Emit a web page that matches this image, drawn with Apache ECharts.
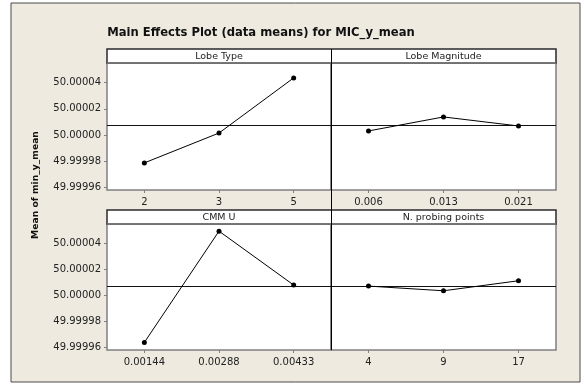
<!DOCTYPE html>
<html>
<head>
<meta charset="utf-8">
<script src="https://cdn.jsdelivr.net/npm/echarts@6/dist/echarts.min.js"></script>
<style>
html,body{margin:0;padding:0;background:#fff;}
#c{width:584px;height:385px;}
</style>
</head>
<body>
<div id="c"></div>
<script>
var TITLE = 'Main Effects Plot (data means) for MIC_y_mean';
var Y_NAME = 'Mean of min_y_mean';
var FACTORS = ['Lobe Type', 'Lobe Magnitude', 'CMM U', 'N. probing points'];
var lobeTypeLevels = ['2', '3', '5'];
var lobeTypeMeans = [49.9999787, 50.0000015, 50.0000436];
var lobeMagLevels = ['0.006', '0.013', '0.021'];
var lobeMagMeans = [50.0000031, 50.0000138, 50.0000069];
var cmmLevels = ['0.00144', '0.00288', '0.00433'];
var cmmMeans = [49.9999638, 50.0000495, 50.0000080];
var probeLevels = ['4', '9', '17'];
var probeMeans = [50.0000072, 50.0000036, 50.0000113];
var GRAND_MEAN = 50.0000072;
var Y_TICKS = [49.99996, 49.99998, 50.00000, 50.00002, 50.00004];
var Y_MIN = 49.999958, Y_MAX = 50.000055;

var levels = [lobeTypeLevels, lobeMagLevels, cmmLevels, probeLevels];
var means = [lobeTypeMeans, lobeMagMeans, cmmMeans, probeMeans];

var FONT = 'DejaVu Sans';
var grids = [
  {left: 107, top: 63, width: 224, height: 127},
  {left: 331, top: 63, width: 225, height: 127},
  {left: 107, top: 224, width: 224, height: 126},
  {left: 331, top: 224, width: 225, height: 126}
];

var option = {
  backgroundColor: '#fff',
  animation: false,
  grid: grids.map(function (g) {
    return {left: g.left, top: g.top, width: g.width, height: g.height,
      show: true, backgroundColor: '#fff', borderColor: '#808080', borderWidth: 1.5, z: 1};
  }),
  xAxis: levels.map(function (lv, i) {
    return {
      type: 'category', gridIndex: i, data: lv, boundaryGap: true,
      axisLine: {show: false},
      axisTick: {show: true, alignWithLabel: true, length: 3, lineStyle: {color: '#808080', width: 1}},
      axisLabel: {fontFamily: FONT, fontSize: 10, color: '#222', margin: 7},
      splitLine: {show: false}
    };
  }),
  yAxis: levels.map(function (lv, i) {
    var left = (i % 2 === 0);
    return {
      type: 'value', gridIndex: i, min: Y_MIN, max: Y_MAX,
      axisLine: {show: false},
      axisTick: {show: left, length: 3, customValues: Y_TICKS, lineStyle: {color: '#808080', width: 1}},
      axisLabel: {show: left, customValues: Y_TICKS, fontFamily: FONT, fontSize: 10, color: '#222', margin: 6,
        formatter: function (v) { return v.toFixed(5); }},
      splitLine: {show: false}
    };
  }),
  series: means.map(function (m, i) {
    return {
      type: 'line', xAxisIndex: i, yAxisIndex: i, data: m,
      symbol: 'circle', symbolSize: 5, showSymbol: true,
      itemStyle: {color: '#000'},
      lineStyle: {color: '#000', width: 1},
      z: 5,
      markLine: {
        silent: true, symbol: 'none', label: {show: false}, precision: 10,
        lineStyle: {color: '#111', width: 1, type: 'solid'},
        data: [{yAxis: GRAND_MEAN}]
      }
    };
  }),
  graphic: [
    {type: 'rect', z: -10, silent: true, shape: {x: 11, y: 3, width: 569, height: 379},
      style: {fill: '#EEEAE0', stroke: '#4a4a4a', lineWidth: 1}},
    {type: 'text', z: 10, x: 261, y: 33, style: {text: TITLE, fontFamily: FONT, fontWeight: 'bold', fontSize: 11.6,
      fill: '#111', align: 'center', verticalAlign: 'middle'}},
    {type: 'text', z: 10, x: 36, y: 185, rotation: Math.PI / 2,
      style: {text: Y_NAME, fontFamily: FONT, fontWeight: 'bold', fontSize: 9.2, fill: '#111',
        align: 'center', verticalAlign: 'middle'}},
    {type: 'rect', z: 20, shape: {x: 107, y: 49, width: 449, height: 14},
      style: {fill: '#fff', stroke: '#2a2a2a', lineWidth: 1.5}},
    {type: 'rect', z: 20, shape: {x: 107, y: 210, width: 449, height: 14},
      style: {fill: '#fff', stroke: '#2a2a2a', lineWidth: 1.5}},
    {type: 'line', z: 21, shape: {x1: 107, y1: 63, x2: 556, y2: 63}, style: {stroke: '#808080', lineWidth: 1.5}},
    {type: 'line', z: 21, shape: {x1: 107, y1: 224, x2: 556, y2: 224}, style: {stroke: '#808080', lineWidth: 1.5}},
    {type: 'line', z: 22, shape: {x1: 331.5, y1: 49, x2: 331.5, y2: 350}, style: {stroke: '#000', lineWidth: 1}},
    {type: 'text', z: 23, x: 219, y: 56.5, style: {text: FACTORS[0], fontFamily: FONT, fontSize: 9.5, fill: '#222', align: 'center', verticalAlign: 'middle'}},
    {type: 'text', z: 23, x: 443.5, y: 56.5, style: {text: FACTORS[1], fontFamily: FONT, fontSize: 9.5, fill: '#222', align: 'center', verticalAlign: 'middle'}},
    {type: 'text', z: 23, x: 219, y: 217.5, style: {text: FACTORS[2], fontFamily: FONT, fontSize: 9.5, fill: '#222', align: 'center', verticalAlign: 'middle'}},
    {type: 'text', z: 23, x: 443.5, y: 217.5, style: {text: FACTORS[3], fontFamily: FONT, fontSize: 9.5, fill: '#222', align: 'center', verticalAlign: 'middle'}}
  ]
};
var chart = echarts.init(document.getElementById('c'), null, {renderer: 'canvas'});
chart.setOption(option);
</script>
</body>
</html>
